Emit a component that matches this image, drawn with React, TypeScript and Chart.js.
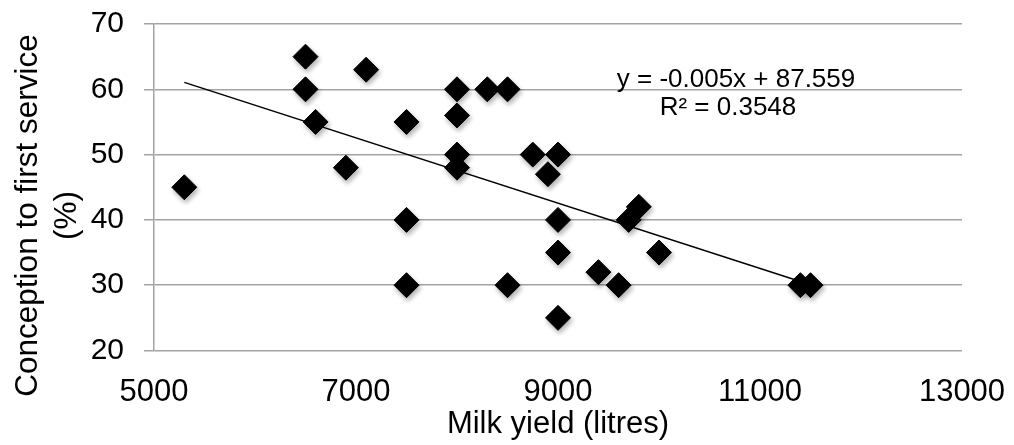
import React, { useEffect, useRef } from "react";
import { Chart, registerables } from "chart.js";

Chart.register(...registerables);

// Milk yield (litres) and conception to first service (%) for each herd
const milkYield = [
  5300, 6500, 6500, 6600, 6900, 7100, 7500, 7500, 7500, 8000, 8000, 8000, 8000,
  8300, 8500, 8500, 8750, 8900, 9000, 9000, 9000, 9000, 9400, 9600, 9700, 9800,
  10000, 11400, 11500,
];
const conception = [
  45, 65, 60, 55, 48, 63, 55, 40, 30, 60, 56, 50, 48, 60, 60, 30, 50, 47, 50, 40,
  35, 25, 32, 30, 40, 42, 35, 30, 30,
];

// Linear trendline as reported on the chart
const trendSlope = -0.005;
const trendIntercept = 87.559;
const equationText = "y = -0.005x + 87.559";
const r2Text = "R² = 0.3548";

const xTickValues = [5000, 7000, 9000, 11000, 13000];
const yTickValues = [20, 30, 40, 50, 60, 70];

const xTitle = "Milk yield (litres)";
const yTitleLines = ["Conception to first service", "(%)"];

const FONT = "'Liberation Sans', Arial, sans-serif";
const GRID = "#a3a3a3";

export default function App() {
  const ref = useRef<HTMLCanvasElement | null>(null);

  useEffect(() => {
    if (!ref.current) return;
    const points = milkYield.map((x, i) => ({ x, y: conception[i] }));
    const xMin = Math.min(...milkYield);
    const xMax = Math.max(...milkYield);
    const trend = [
      { x: xMin, y: trendSlope * xMin + trendIntercept },
      { x: xMax, y: trendSlope * xMax + trendIntercept },
    ];

    const shadowPlugin = {
      id: "markerShadow",
      beforeDatasetDraw(chart: any, args: any) {
        if (args.index === 1) {
          const c = chart.ctx;
          c.save();
          c.shadowColor = "rgba(0,0,0,0.3)";
          c.shadowBlur = 5;
          c.shadowOffsetX = 1.5;
          c.shadowOffsetY = 3;
        }
      },
      afterDatasetDraw(chart: any, args: any) {
        if (args.index === 1) chart.ctx.restore();
      },
    };

    const textPlugin = {
      id: "extraText",
      afterDraw(chart: any) {
        const c = chart.ctx;
        const area = chart.chartArea;
        c.save();
        c.fillStyle = "#000";
        // y-axis title
        c.font = `31.5px ${FONT}`;
        c.textAlign = "center";
        c.textBaseline = "middle";
        const cy = 215.5;
        c.save();
        c.translate(28, cy);
        c.rotate(-Math.PI / 2);
        c.fillText(yTitleLines[0], 0, 0);
        c.restore();
        c.save();
        c.translate(67, cy);
        c.rotate(-Math.PI / 2);
        c.fillText(yTitleLines[1], 0, 0);
        c.restore();
        // trendline equation
        c.font = `26px ${FONT}`;
        c.textBaseline = "alphabetic";
        c.fillText(equationText, area.left + 582, 87);
        c.fillText(r2Text, area.left + 574, 115);
        c.restore();
      },
    };

    const chart = new Chart(ref.current, {
      type: "scatter",
      data: {
        datasets: [
          {
            type: "line",
            data: trend,
            borderColor: "#000",
            borderWidth: 1.5,
            pointRadius: 0,
            fill: false,
            order: 0,
          } as any,
          {
            data: points,
            pointStyle: "rectRot",
            pointRadius: 12.5,
            pointBorderWidth: 1,
            backgroundColor: "#000",
            borderColor: "#000",
            order: 1,
          },
        ],
      },
      options: {
        animation: false,
        responsive: true,
        maintainAspectRatio: false,
        layout: { autoPadding: false, padding: { top: 24, right: 52, left: 0, bottom: 0 } },
        plugins: {
          legend: { display: false },
          tooltip: { enabled: false },
        },
        scales: {
          x: {
            type: "linear",
            min: 5000,
            max: 13000,
            afterBuildTicks: (s: any) => {
              s.ticks = xTickValues.map((v) => ({ value: v }));
            },
            afterFit: (s: any) => {
              s.height = 94.5;
              s.paddingLeft = 0;
              s.paddingRight = 0;
            },
            grid: { display: false, drawTicks: false },
            border: { display: false },
            ticks: {
              color: "#000",
              font: { family: FONT, size: 31 },
              padding: 23,
              maxRotation: 0,
              callback: (v: any) => String(v),
            },
            title: {
              display: true,
              text: xTitle,
              color: "#000",
              font: { family: FONT, size: 31 },
              padding: { top: 0, bottom: 2 },
            },
          },
          y: {
            type: "linear",
            min: 20,
            max: 70,
            afterBuildTicks: (s: any) => {
              s.ticks = yTickValues.map((v) => ({ value: v }));
            },
            afterFit: (s: any) => {
              s.width = 154;
              s.paddingTop = 0;
              s.paddingBottom = 0;
            },
            grid: {
              color: GRID,
              lineWidth: 1.5,
              drawTicks: true,
              tickLength: 10,
              tickColor: GRID,
            },
            border: { display: true, color: GRID, width: 1.5 },
            ticks: {
              color: "#000",
              font: { family: FONT, size: 30 },
              padding: 20,
              callback: (v: any) => String(v),
            },
          },
        },
      },
      plugins: [shadowPlugin, textPlugin],
    });
    return () => chart.destroy();
  }, []);

  return (
    <div style={{ position: "absolute", left: 0, top: 0, width: 1014, height: 445, background: "#fff" }}>
      <canvas ref={ref} />
    </div>
  );
}
